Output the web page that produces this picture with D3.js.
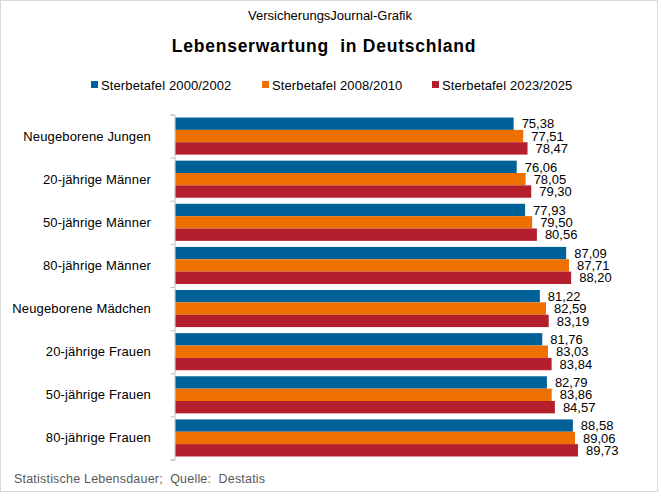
<!DOCTYPE html>
<html>
<head>
<meta charset="utf-8">
<script src="https://cdn.jsdelivr.net/npm/d3@7"></script>
<style>
  html, body { margin: 0; padding: 0; background: #fff; }
  svg { display: block; font-family: "Liberation Sans", Arial, sans-serif; }
</style>
</head>
<body>
<svg id="chart" width="661" height="496"></svg>
<script>
const categories = [
  "Neugeborene Jungen", "20-jährige Männer", "50-jährige Männer", "80-jährige Männer",
  "Neugeborene Mädchen", "20-jährige Frauen", "50-jährige Frauen", "80-jährige Frauen"
];
const seriesNames = ["Sterbetafel 2000/2002", "Sterbetafel 2008/2010", "Sterbetafel 2023/2025"];
const values2000 = [75.38, 76.06, 77.93, 87.09, 81.22, 81.76, 82.79, 88.58];
const values2008 = [77.51, 78.05, 79.50, 87.71, 82.59, 83.03, 83.86, 89.06];
const values2023 = [78.47, 79.30, 80.56, 88.20, 83.19, 83.84, 84.57, 89.73];
const seriesColors = ["#006199", "#ED7000", "#B41F2D"];

const seriesValues = [values2000, values2008, values2023];
const data = categories.map((c, i) => ({
  cat: c,
  vals: seriesValues.map((arr, s) => ({ s, v: arr[i] }))
}));

const svg = d3.select("#chart");

// border
svg.append("rect").attr("x", 0.5).attr("y", 0.5).attr("width", 657).attr("height", 491)
  .attr("fill", "#fff").attr("stroke", "#d9d9d9").attr("stroke-width", 1);

// titles
svg.append("text").attr("x", 330).attr("y", 20).attr("text-anchor", "middle")
  .attr("font-size", 13).attr("fill", "#000").text("VersicherungsJournal-Grafik");
svg.append("text").attr("x", 324).attr("y", 52).attr("text-anchor", "middle")
  .attr("font-size", 17.5).attr("font-weight", "bold").attr("fill", "#000")
  .attr("letter-spacing", 0.75)
  .attr("xml:space", "preserve").style("white-space", "pre")
  .text("Lebenserwartung  in Deutschland");

// legend
const legendX = [91, 262, 432];
seriesNames.forEach((n, i) => {
  svg.append("rect").attr("x", legendX[i]).attr("y", 81).attr("width", 7).attr("height", 7)
    .attr("fill", seriesColors[i]);
  svg.append("text").attr("x", legendX[i] + 10).attr("y", 89.5)
    .attr("font-size", 13).attr("letter-spacing", 0.12).attr("fill", "#000").text(n);
});

// scales
const x0 = 175.5;
const x = d3.scaleLinear().domain([0, 100]).range([x0, x0 + 448.6]);
const y = d3.scaleBand().domain(categories).range([114.5, 459.5])
  .paddingInner(0.14).paddingOuter(0.07);
const ys = d3.scaleBand().domain([0, 1, 2]).range([0, y.bandwidth()]);

// axis
const axis = d3.axisLeft(d3.scaleLinear().domain([0, 8]).range([114.5, 459.5]))
  .tickValues(d3.range(0, 9)).tickSize(4).tickFormat("");
const ag = svg.append("g").attr("transform", `translate(${x0 - 1},0)`).call(axis);
ag.selectAll("line").attr("stroke", "#bfbfbf");
ag.select(".domain").attr("stroke", "#bfbfbf");

// category labels
svg.append("g").selectAll("text").data(categories).join("text")
  .attr("x", 151).attr("y", d => y(d) + y.bandwidth() / 2)
  .attr("dy", "0.35em").attr("text-anchor", "end")
  .attr("font-size", 13).attr("letter-spacing", 0.15).attr("fill", "#000").text(d => d);

// bars
const groups = svg.append("g").selectAll("g").data(data).join("g")
  .attr("transform", d => `translate(0,${y(d.cat)})`);
groups.selectAll("rect").data(d => d.vals).join("rect")
  .attr("x", x(0)).attr("y", d => ys(d.s)).attr("height", ys.bandwidth())
  .attr("width", d => x(d.v) - x(0)).attr("fill", d => seriesColors[d.s]);
groups.selectAll("text").data(d => d.vals).join("text")
  .attr("x", d => x(d.v) + 8).attr("y", d => ys(d.s) + ys.bandwidth() / 2)
  .attr("dy", "0.36em").attr("font-size", 13).attr("fill", "#000")
  .text(d => d3.format(".2f")(d.v).replace(".", ","));

// footer
svg.append("text").attr("x", 14).attr("y", 483).attr("font-size", 12.5).attr("fill", "#595959")
  .attr("letter-spacing", 0.2)
  .attr("xml:space", "preserve").style("white-space", "pre")
  .text("Statistische Lebensdauer;  Quelle:  Destatis");
</script>
</body>
</html>
